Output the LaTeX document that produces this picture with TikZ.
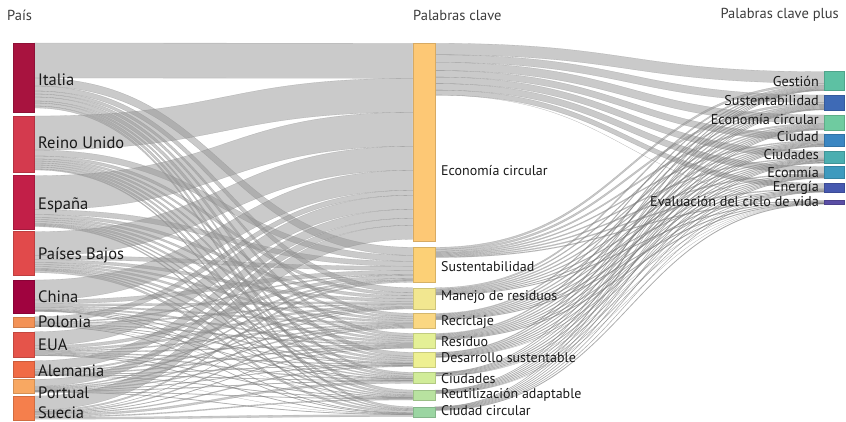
\documentclass[tikz,border=0pt]{standalone}
\usepackage{fontspec}
\setmainfont{PT Sans}
\usetikzlibrary{calc}
\pgfdeclarelayer{bg}
\pgfsetlayers{bg,main}
\definecolor{cL1}{HTML}{A8133F}\definecolor{cL2}{HTML}{D43A4E}\definecolor{cL3}{HTML}{C21F48}
\definecolor{cL4}{HTML}{E14A4B}\definecolor{cL5}{HTML}{A0033F}\definecolor{cL6}{HTML}{F39256}
\definecolor{cL7}{HTML}{E5544A}\definecolor{cL8}{HTML}{F06B45}\definecolor{cL9}{HTML}{F8A862}
\definecolor{cL10}{HTML}{F57F4C}
\definecolor{cM1}{HTML}{FDC875}\definecolor{cM2}{HTML}{FCD076}\definecolor{cM3}{HTML}{F2E790}
\definecolor{cM4}{HTML}{FAD782}\definecolor{cM5}{HTML}{E4F096}\definecolor{cM6}{HTML}{EEF092}
\definecolor{cM7}{HTML}{D1EC99}\definecolor{cM8}{HTML}{B8E2A0}\definecolor{cM9}{HTML}{9BD5A2}
\definecolor{cR1}{HTML}{5DC1A3}\definecolor{cR2}{HTML}{3E6AB6}\definecolor{cR3}{HTML}{6FCBA0}
\definecolor{cR4}{HTML}{3A86C2}\definecolor{cR5}{HTML}{4BAEB0}\definecolor{cR6}{HTML}{3E9ABE}
\definecolor{cR7}{HTML}{4658AF}\definecolor{cR8}{HTML}{5A4EA5}
\definecolor{flowgray}{HTML}{959595}
\definecolor{txt}{HTML}{1A1A1A}
\newcommand\initoff[1]{\expandafter\gdef\csname oo#1\endcsname{0}\expandafter\gdef\csname oi#1\endcsname{0}}
\newcommand\lnk[3]{%
  \pgfmathsetmacro\oa{\csname oo#1\endcsname}%
  \pgfmathsetmacro\ob{\csname oi#2\endcsname}%
  \path (#1.north east) ++(0,\oa) coordinate (p1) ++(0,#3) coordinate (p4);
  \path (#2.north west) ++(0,\ob) coordinate (p2) ++(0,#3) coordinate (p3);
  \begin{pgfonlayer}{bg}
  \path[flow] let \p1=(p1),\p2=(p2),\p3=(p3),\p4=(p4),\n1={0.5*(\x1+\x2)} in
    (p1) .. controls (\n1,\y1) and (\n1,\y2) .. (p2) -- (p3) .. controls (\n1,\y3) and (\n1,\y4) .. (p4) -- cycle;
  \end{pgfonlayer}
  \pgfmathsetmacro\oa{\oa+#3}\expandafter\xdef\csname oo#1\endcsname{\oa}%
  \pgfmathsetmacro\ob{\ob+#3}\expandafter\xdef\csname oi#2\endcsname{\ob}%
}
\tikzset{
  bar/.style={draw=#1!85!black, line width=0.4pt, fill=#1, inner sep=0pt, outer sep=0pt},
  lbar/.style={bar=#1, minimum width=21.6pt},
  mbar/.style={bar=#1, minimum width=22pt},
  rbar/.style={bar=#1, minimum width=19.7pt},
  flow/.style={fill=flowgray, fill opacity=0.5, draw=flowgray!70!black, draw opacity=0.35, line width=0.3pt},
  llab/.style={anchor=west, inner sep=0pt, text=txt, font=\fontsize{16.5}{18}\selectfont},
  mlab/.style={anchor=west, inner sep=0pt, text=txt, font=\fontsize{14}{16}\selectfont},
  rlab/.style={anchor=east, inner sep=0pt, text=txt, font=\fontsize{14.2}{16}\selectfont},
  head/.style={inner sep=0pt, text=txt!85, font=\fontsize{14.5}{16}\selectfont},
}
\begin{document}
\begin{tikzpicture}[x=1pt,y=-1pt]
\useasboundingbox (0,0) rectangle (846,422);
% headers
\node[head, anchor=west] (h1) at (7,15) {País};
\node[head, anchor=west] (h2) at (413,15) {Palabras clave};
\node[head, anchor=east] (h3) at (839,15) {Palabras clave plus};
% left nodes
\node[lbar=cL1, minimum height=69pt] (L1) at (23.5,77.5) {};
\node[lbar=cL2, minimum height=56.7pt] (L2) at (23.5,144.35) {};
\node[lbar=cL3, minimum height=53.3pt] (L3) at (23.5,202.35) {};
\node[lbar=cL4, minimum height=43.3pt] (L4) at (23.5,253.35) {};
\node[lbar=cL5, minimum height=33pt] (L5) at (23.5,296.5) {};
\node[lbar=cL6, minimum height=10.6pt] (L6) at (23.5,322) {};
\node[lbar=cL7, minimum height=25pt] (L7) at (23.5,344.2) {};
\node[lbar=cL8, minimum height=16pt] (L8) at (23.5,368.7) {};
\node[lbar=cL9, minimum height=13.4pt] (L9) at (23.5,386) {};
\node[lbar=cL10, minimum height=24pt] (L10) at (23.5,408) {};
% middle nodes
\node[mbar=cM1, minimum height=198.4pt] (M1) at (423.7,142.5) {};
\node[mbar=cM2, minimum height=35pt] (M2) at (423.7,264.8) {};
\node[mbar=cM3, minimum height=21.3pt] (M3) at (423.7,298.35) {};
\node[mbar=cM4, minimum height=15pt] (M4) at (423.7,320.8) {};
\node[mbar=cM5, minimum height=15pt] (M5) at (423.7,340.8) {};
\node[mbar=cM6, minimum height=14.4pt] (M6) at (423.7,359.5) {};
\node[mbar=cM7, minimum height=11pt] (M7) at (423.7,377.8) {};
\node[mbar=cM8, minimum height=10pt] (M8) at (423.7,395) {};
\node[mbar=cM9, minimum height=10pt] (M9) at (423.7,411.7) {};
% right nodes
\node[rbar=cR1, minimum height=19pt] (R1) at (834.2,81.2) {};
\node[rbar=cR2, minimum height=15pt] (R2) at (834.2,102.5) {};
\node[rbar=cR3, minimum height=15pt] (R3) at (834.2,122.5) {};
\node[rbar=cR4, minimum height=12.7pt] (R4) at (834.2,140.35) {};
\node[rbar=cR5, minimum height=12.3pt] (R5) at (834.2,157.15) {};
\node[rbar=cR6, minimum height=11.6pt] (R6) at (834.2,172.5) {};
\node[rbar=cR7, minimum height=9pt] (R7) at (834.2,187.8) {};
\node[rbar=cR8, minimum height=3.6pt] (R8) at (834.2,202.5) {};
\foreach \n in {L1,L2,L3,L4,L5,L6,L7,L8,L9,L10,M1,M2,M3,M4,M5,M6,M7,M8,M9,R1,R2,R3,R4,R5,R6,R7,R8}{\initoff{\n}}
% country -> keyword
\foreach \s/\a/\b/\c/\d/\e/\f/\g/\h/\i in {
  L1/35/8/5/3/3/4/2/3/2,
  L2/34/6/3/2/2/2/2/2/1,
  L3/34/5/3/2/2/2/1/1/1,
  L4/24/4/3/2/2/2/1/1/2,
  L5/20/4/2/1.5/1.5/1/0.5/0.5/0.5,
  L6/5/1/1/0.5/1/0.5/0.5/0/0.5,
  L7/14/3/2/1/1/1/1/0.5/0.5,
  L8/9/1.5/1/1/1/0.5/0.5/0.5/0,
  L9/7/1/1/1/1/0.5/0.5/0.5/0.5,
  L10/14/1.5/0.3/1/0.5/0.9/2/1/2}{
  \lnk{\s}{M1}{\a}\lnk{\s}{M2}{\b}\lnk{\s}{M3}{\c}\lnk{\s}{M4}{\d}\lnk{\s}{M5}{\e}
  \lnk{\s}{M6}{\f}\lnk{\s}{M7}{\g}\lnk{\s}{M8}{\h}\lnk{\s}{M9}{\i}}
% keyword -> keyword plus
\foreach \s/\a/\b/\c/\d/\e/\f/\g/\h in {
  M1/11.5/7.6/8.2/6.5/6.5/6.5/5/0,
  M2/2/2/1.5/1/1/1/1/0.8,
  M3/1.5/1/1/1/0.8/0.8/0.6/0.7,
  M4/1/1/1/0.8/0.8/0.6/0.6/0.7,
  M5/1/1/1/0.8/0.7/0.6/0.6/0.7,
  M6/0.8/1/0.8/0.7/0.7/0.6/0.4/0,
  M7/0.5/0.5/0.5/0.8/0.8/0.5/0/0,
  M8/0.4/0.5/0.5/0.6/0.5/0.5/0.4/0,
  M9/0.4/0.4/0.5/0.5/0.5/0.5/0.4/0.7}{
  \lnk{\s}{R1}{\a}\lnk{\s}{R2}{\b}\lnk{\s}{R3}{\c}\lnk{\s}{R4}{\d}
  \lnk{\s}{R5}{\e}\lnk{\s}{R6}{\f}\lnk{\s}{R7}{\g}\lnk{\s}{R8}{\h}}
% left labels
\node[llab] (tL1) at (38,80) {Italia};
\node[llab] (tL2) at (38,143) {Reino Unido};
\node[llab] (tL3) at (38,205) {España};
\node[llab] (tL4) at (38,255) {Países Bajos};
\node[llab] (tL5) at (38,297) {China};
\node[llab] (tL6) at (38,322) {Polonia};
\node[llab] (tL7) at (38,345) {EUA};
\node[llab] (tL8) at (38,371) {Alemania};
\node[llab] (tL9) at (38,393) {Portual};
\node[llab] (tL10) at (38,413) {Suecia};
% middle labels
\node[mlab] (tM1) at (441,171) {Economía circular};
\node[mlab] (tM2) at (441,267) {Sustentabilidad};
\node[mlab] (tM3) at (441,297) {Manejo de residuos};
\node[mlab] (tM4) at (441,322) {Reciclaje};
\node[mlab] (tM5) at (441,342) {Residuo};
\node[mlab] (tM6) at (441,358) {Desarrollo sustentable};
\node[mlab] (tM7) at (441,379) {Ciudades};
\node[mlab] (tM8) at (441,395) {Reutilización adaptable};
\node[mlab] (tM9) at (441,411) {Ciudad circular};
% right labels
\node[rlab] (tR1) at (819,81) {Gestión};
\node[rlab] (tR2) at (819,101) {Sustentabilidad};
\node[rlab] (tR3) at (819,119.5) {Economía circular};
\node[rlab] (tR4) at (819,137) {Ciudad};
\node[rlab] (tR5) at (819,155) {Ciudades};
\node[rlab] (tR6) at (819,172.5) {Econmía};
\node[rlab] (tR7) at (819,187.5) {Energía};
\node[rlab] (tR8) at (819,201) {Evaluación del ciclo de vida};
\end{tikzpicture}
\end{document}
